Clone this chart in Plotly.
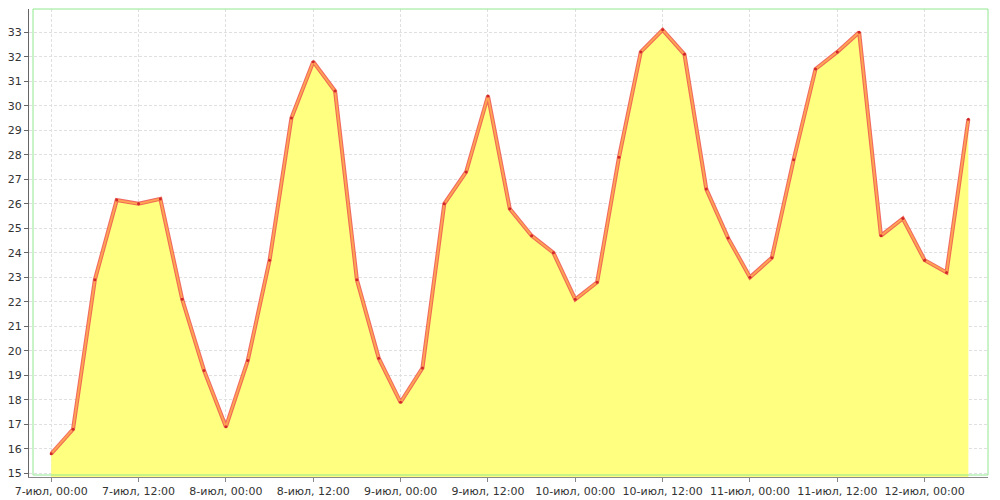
import plotly.graph_objects as go
import pandas as pd

start = "2014-07-07 00:00"
temps = [15.8, 16.8, 22.9, 26.15, 26.0, 26.2, 22.1, 19.2,
         16.9, 19.6, 23.7, 29.5, 31.8, 30.6, 22.9, 19.7,
         17.9, 19.3, 26.0, 27.3, 30.4, 25.8, 24.7, 24.0,
         22.1, 22.8, 27.9, 32.2, 33.1, 32.1, 26.6, 24.6,
         23.0, 23.8, 27.8, 31.5, 32.2, 33.0, 24.7, 25.4,
         23.7, 23.2, 29.45]
times = pd.date_range(start, periods=len(temps), freq="3h")

tick_vals = pd.date_range(start, periods=11, freq="12h")
tick_text = ["7-июл, 00:00", "7-июл, 12:00", "8-июл, 00:00", "8-июл, 12:00",
             "9-июл, 00:00", "9-июл, 12:00", "10-июл, 00:00", "10-июл, 12:00",
             "11-июл, 00:00", "11-июл, 12:00", "12-июл, 00:00"]
y_ticks = list(range(15, 34))

fig = go.Figure()
fig.add_trace(go.Scatter(x=times, y=temps, mode="lines", fill="tozeroy",
                         fillcolor="#ffff80",
                         line=dict(color="rgba(240,90,80,0.9)", width=4),
                         hoverinfo="skip"))
fig.add_trace(go.Scatter(x=times, y=temps, mode="lines+markers",
                         line=dict(color="#ffa552", width=1.8),
                         marker=dict(size=3, color="#d02828"),
                         hoverinfo="skip"))

x0 = times[0] - pd.Timedelta(hours=3.05)
x1 = times[-1] + pd.Timedelta(hours=2.7)

# page body has an 8px margin, so the figure is sized/offset to compensate
fig.update_layout(
    width=992, height=492,
    margin=dict(l=21, r=12, t=1, b=23, autoexpand=False),
    paper_bgcolor="white", plot_bgcolor="white",
    showlegend=False,
    font=dict(family="DejaVu Sans", size=11, color="#333333"),
    xaxis=dict(range=[x0, x1], tickvals=tick_vals, ticktext=tick_text,
               automargin=False,
               showgrid=True, gridcolor="#e0e0e0", griddash="3px,2px", gridwidth=1,
               showline=True, linecolor="#888888", linewidth=1,
               ticks="outside", ticklen=4, tickcolor="#888888",
               zeroline=False, tickangle=0),
    yaxis=dict(range=[14.85, 33.95], tickvals=y_ticks, automargin=False,
               showgrid=True, gridcolor="#e0e0e0", griddash="3px,2px", gridwidth=1,
               showline=True, linecolor="#666666", linewidth=1,
               ticks="outside", ticklen=4, tickcolor="#666666",
               zeroline=False),
)

# green plot frame, inset from the axis lines
fig.add_shape(type="rect", xref="paper", yref="paper",
              x0=4/959, x1=1.0, y0=2/468, y1=1.0,
              line=dict(color="#90e890", width=1), fillcolor="rgba(0,0,0,0)",
              layer="above")

fig.write_html("out.html")
